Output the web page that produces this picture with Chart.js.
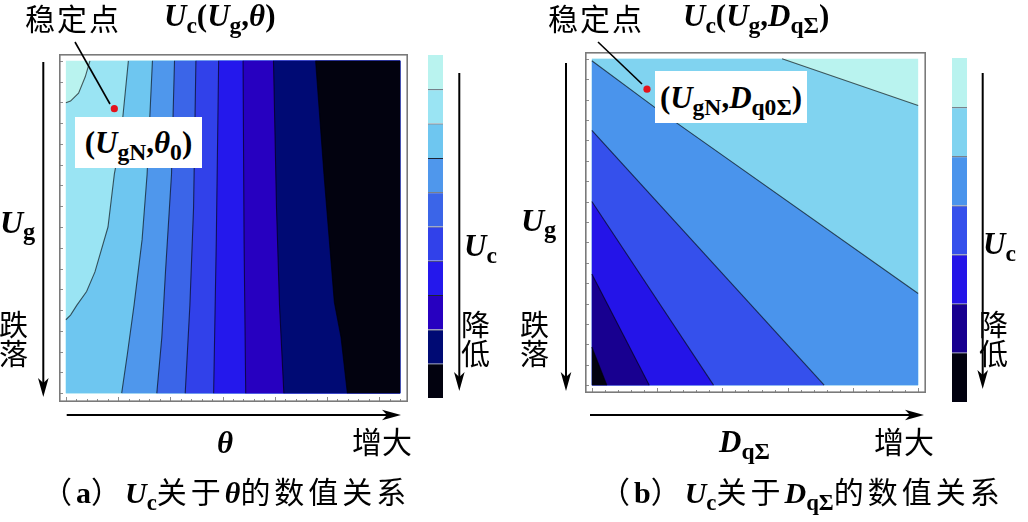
<!DOCTYPE html>
<html>
<head>
<meta charset="utf-8">
<script src="https://cdn.jsdelivr.net/npm/chart.js@4.4.1/dist/chart.umd.min.js"></script>
<style>
  html, body { margin: 0; padding: 0; background: #fff; }
  #fig { position: relative; width: 1028px; height: 522px; overflow: hidden; }
  canvas, svg { position: absolute; }
  .t { position: absolute; white-space: nowrap; line-height: 1; color: #000; }
  .zh { font-family: "Noto Sans CJK SC", sans-serif; font-weight: normal; }
  .tm { font-family: "Liberation Serif", "Noto Sans CJK SC", serif; }
  .tm i, .tm sub, .tm .l { font-weight: bold; }
  .tm .zh { font-family: "Noto Sans CJK SC", sans-serif; font-weight: normal; }
  .cap .zh { letter-spacing: 4px; }
  .t i { font-style: italic; }
  .t sub { font-size: 0.76em; position: relative; top: 0.3em; vertical-align: baseline; line-height: 0; font-style: normal; }
  .box { position: absolute; background: #fff; display: flex; align-items: center; justify-content: center; }
  .stack { line-height: 29px; }
</style>
</head>
<body>
<div id="fig">
  <canvas id="plot-theta" width="357" height="356" style="left:55px;top:50px"></canvas>
  <canvas id="bar-theta" width="15" height="343" style="left:428px;top:55px"></canvas>
  <canvas id="plot-dq" width="349" height="349" style="left:581px;top:48px"></canvas>
  <canvas id="bar-dq" width="15" height="344" style="left:952px;top:58px"></canvas>

  <svg width="1028" height="522" style="left:0;top:0">
    <g stroke="#000" stroke-width="2" fill="none">
      <line x1="43.3" y1="62" x2="43.3" y2="384"/>
      <line x1="459.3" y1="73" x2="459.3" y2="378"/>
      <line x1="66.7" y1="415" x2="388" y2="415"/>
      <line x1="566" y1="63" x2="566" y2="378"/>
      <line x1="982.7" y1="73" x2="982.7" y2="376"/>
      <line x1="590" y1="415" x2="911" y2="415"/>
    </g>
    <g fill="#000">
      <polygon points="43.3,397 38,378 43.3,383 48.6,378"/>
      <polygon points="459.3,391 454,372 459.3,377 464.6,372"/>
      <polygon points="401,415 382,409.7 387,415 382,420.3"/>
      <polygon points="566,391 560.7,372 566,377 571.3,372"/>
      <polygon points="982.7,389 977.4,370 982.7,375 988,370"/>
      <polygon points="924,415 905,409.7 910,415 905,420.3"/>
    </g>
    <g stroke="#000" stroke-width="1.6">
      <line x1="75" y1="42" x2="110" y2="104"/>
      <line x1="598" y1="42" x2="642" y2="84"/>
    </g>
  </svg>

  <div class="box" style="left:75px;top:117px;width:127px;height:51px">
    <span class="t tm" style="position:static;font-size:31px"><span class="l">(</span><i>U</i><sub>gN</sub><span class="l">,</span><i>θ</i><sub>0</sub><span class="l">)</span></span>
  </div>
  <div class="box" style="left:655px;top:71px;width:152px;height:52px">
    <span class="t tm" style="position:static;font-size:31px"><span class="l">(</span><i>U</i><sub>gN</sub><span class="l">,</span><i>D</i><sub>q0Σ</sub><span class="l">)</span></span>
  </div>

  <span class="t zh" style="left:25px;top:2px;font-size:30px;letter-spacing:2px">稳定点</span>
  <span class="t tm" style="left:164px;top:0px;font-size:31px"><i>U</i><sub>c</sub><span class="l">(</span><i>U</i><sub>g</sub><span class="l">,</span><i>θ</i><span class="l">)</span></span>
  <span class="t zh" style="left:548px;top:2px;font-size:30px;letter-spacing:2px">稳定点</span>
  <span class="t tm" style="left:683px;top:0px;font-size:31px"><i>U</i><sub>c</sub><span class="l">(</span><i>U</i><sub>g</sub><span class="l">,</span><i>D</i><sub>qΣ</sub><span class="l">)</span></span>

  <span class="t tm" style="left:0px;top:206px;font-size:32px"><i>U</i><sub>g</sub></span>
  <span class="t zh stack" style="left:-1px;top:309px;font-size:29px">跌<br>落</span>
  <span class="t tm" style="left:521px;top:204px;font-size:32px"><i>U</i><sub>g</sub></span>
  <span class="t zh stack" style="left:520px;top:309px;font-size:29px">跌<br>落</span>

  <span class="t tm" style="left:464px;top:230px;font-size:31px"><i>U</i><sub>c</sub></span>
  <span class="t zh stack" style="left:461px;top:309px;font-size:29px">降<br>低</span>
  <span class="t tm" style="left:983px;top:228px;font-size:31px"><i>U</i><sub>c</sub></span>
  <span class="t zh stack" style="left:979px;top:309px;font-size:29px">降<br>低</span>

  <span class="t tm" style="left:217px;top:427px;font-size:31px"><i>θ</i></span>
  <span class="t zh" style="left:352px;top:425px;font-size:30px">增大</span>
  <span class="t tm" style="left:719px;top:426px;font-size:31px"><i>D</i><sub>qΣ</sub></span>
  <span class="t zh" style="left:874px;top:425px;font-size:30px">增大</span>

  <span class="t tm cap" style="left:42px;top:475px;font-size:30px"><span class="zh">（</span><span class="l">a</span><span class="zh">）</span><i>U</i><sub>c</sub><span class="zh">关于</span><i>θ</i><span class="zh">的数值关系</span></span>
  <span class="t tm cap" style="left:600px;top:475px;font-size:30px"><span class="zh">（</span><span class="l">b</span><span class="zh">）</span><i>U</i><sub>c</sub><span class="zh">关于</span><i>D</i><sub>qΣ</sub><span class="zh">的数值关系</span></span>
</div>

<script>
// ---- (a) Uc over (theta, Ug): both axes normalised to 0..1, Ug = 1 at the top ----
const thetaColors = ['#b9f3ef', '#9ae4f3', '#6ec6f0', '#4f97ec', '#3b65e8', '#3141ea', '#2418ec', '#2700c0', '#000a74', '#02020f'];
// each contour is a list of [theta, Ug], from the top edge downwards
const thetaContour1 = [[0.072, 1.0], [0.058, 0.952], [0.038, 0.903], [0.014, 0.879], [0.0, 0.874]];
const thetaContour2 = [[0.187, 1.0], [0.163, 0.756], [0.145, 0.659], [0.126, 0.5], [0.087, 0.365], [0.062, 0.306], [0.033, 0.265], [0.014, 0.235], [0.0, 0.221]];
const thetaContour3 = [[0.259, 1.0], [0.243, 0.659], [0.228, 0.462], [0.204, 0.265], [0.184, 0.118], [0.167, 0.0]];
const thetaContour4 = [[0.325, 1.0], [0.316, 0.659], [0.298, 0.365], [0.287, 0.168], [0.272, 0.0]];
const thetaContour5 = [[0.389, 1.0], [0.382, 0.559], [0.371, 0.265], [0.357, 0.0]];
const thetaContour6 = [[0.457, 1.0], [0.450, 0.462], [0.442, 0.0]];
const thetaContour7 = [[0.530, 1.0], [0.533, 0.462], [0.538, 0.0]];
const thetaContour8 = [[0.621, 1.0], [0.630, 0.559], [0.639, 0.265], [0.652, 0.0]];
const thetaContour9 = [[0.747, 1.0], [0.772, 0.659], [0.803, 0.274], [0.823, 0.168], [0.842, 0.0]];
const thetaStable = [0.145, 0.856];

// ---- (b) Uc over (DqSigma, Ug) ----
const dqColors = ['#b9f3ef', '#80d3f0', '#4a94ec', '#3550ec', '#2414e8', '#180090', '#020210'];
const dqContour1 = [[0.583, 1.0], [1.0, 0.857]];
const dqContour2 = [[0.0, 0.994], [0.2, 0.846], [1.0, 0.281]];
const dqContour3 = [[0.0, 0.781], [0.712, 0.0]];
const dqContour4 = [[0.0, 0.563], [0.373, 0.0]];
const dqContour5 = [[0.0, 0.341], [0.176, 0.0]];
const dqContour6 = [[0.0, 0.117], [0.046, 0.0]];
const dqStable = [0.169, 0.907];

// frame tick marks (left and bottom only)
const ugTicks = Array.from({length: 17}, (_, i) => i / 16);
const thetaTicks = Array.from({length: 33}, (_, i) => i / 32);
const dqTicks = Array.from({length: 26}, (_, i) => i / 25);

(function() {
  const lineColor = 'rgba(0,0,0,0.62)';
  const full = [{x: 0, y: 0}, {x: 1, y: 0}, {x: 1, y: 1}, {x: 0, y: 1}];

  // area right of a theta contour
  function regionTheta(line) {
    const pts = line.map(([x, y]) => ({x, y}));
    if (line[line.length - 1][1] > 0) pts.push({x: 0, y: 0});
    pts.push({x: 1, y: 0}, {x: 1, y: 1});
    return pts;
  }

  // area below-left of a DqSigma contour
  function regionDq(line) {
    const pts = line.map(([x, y]) => ({x, y}));
    if (line[line.length - 1][0] === 1) pts.push({x: 1, y: 0});
    pts.push({x: 0, y: 0});
    if (line[0][1] === 1) pts.push({x: 0, y: 1});
    return pts;
  }

  function buildDatasets(contours, colors, stable, regionFn) {
    const n = contours.length;
    const sets = [{
      data: full, fill: 'shape', backgroundColor: colors[0], borderWidth: 0, pointRadius: 0, order: n + 1
    }];
    contours.forEach((c, i) => {
      sets.push({
        data: regionFn(c), fill: 'shape', backgroundColor: colors[i + 1],
        borderWidth: 0, pointRadius: 0, order: n - i
      });
    });
    contours.forEach(c => {
      sets.push({
        data: c.map(([x, y]) => ({x, y})), fill: false, borderColor: lineColor,
        borderWidth: 1.1, pointRadius: 0, order: -1
      });
    });
    sets.push({
      data: [{x: stable[0], y: stable[1]}], showLine: false, pointRadius: 3.6,
      pointBackgroundColor: '#e3121b', pointBorderWidth: 0, order: -2
    });
    return sets;
  }

  function framePlugin(yTicks, xTicks, majorEvery) {
    return {
      id: 'frame',
      afterDatasetsDraw(chart) {
        const {ctx, chartArea: a, scales} = chart;
        ctx.save();
        ctx.strokeStyle = '#8c8c8c';
        ctx.lineWidth = 1;
        yTicks.forEach(v => {
          const y = Math.round(scales.y.getPixelForValue(v)) + 0.5;
          ctx.beginPath();
          ctx.moveTo(a.left, y);
          ctx.lineTo(a.left + 4, y);
          ctx.stroke();
        });
        xTicks.forEach((v, i) => {
          const x = Math.round(scales.x.getPixelForValue(v)) + 0.5;
          ctx.beginPath();
          ctx.moveTo(x, a.bottom);
          ctx.lineTo(x, a.bottom - (i % majorEvery === 0 ? 5 : 3));
          ctx.stroke();
        });
        ctx.strokeStyle = '#7a7a7a';
        ctx.lineWidth = 1.6;
        ctx.strokeRect(a.left + 0.8, a.top + 0.8, a.width - 1.6, a.height - 1.6);
        ctx.restore();
      }
    };
  }

  const baseOptions = {
    responsive: false,
    animation: false,
    events: [],
    layout: {padding: 0},
    elements: {line: {tension: 0}},
    plugins: {legend: {display: false}, tooltip: {enabled: false}}
  };

  new Chart(document.getElementById('plot-theta'), {
    type: 'line',
    data: {datasets: buildDatasets([thetaContour1, thetaContour2, thetaContour3, thetaContour4, thetaContour5,
      thetaContour6, thetaContour7, thetaContour8, thetaContour9], thetaColors, thetaStable, regionTheta)},
    options: {
      ...baseOptions,
      scales: {
        x: {type: 'linear', display: false, min: -0.0205, max: 1.0234},
        y: {type: 'linear', display: false, min: -0.0265, max: 1.0206}
      }
    },
    plugins: [framePlugin(ugTicks, thetaTicks, 5)]
  });

  new Chart(document.getElementById('plot-dq'), {
    type: 'line',
    data: {datasets: buildDatasets([dqContour1, dqContour2, dqContour3, dqContour4, dqContour5, dqContour6],
      dqColors, dqStable, regionDq)},
    options: {
      ...baseOptions,
      scales: {
        x: {type: 'linear', display: false, min: -0.021, max: 1.024},
        y: {type: 'linear', display: false, min: -0.024, max: 1.021}
      }
    },
    plugins: [framePlugin(ugTicks, dqTicks, 5)]
  });

  // colour bars: one stacked bar, darkest level at the bottom
  function colorBar(id, colors) {
    const n = colors.length;
    const datasets = colors.slice().reverse().map((c, i) => ({
      data: [1],
      backgroundColor: c,
      borderColor: '#1c2434',
      borderWidth: {top: i === n - 1 ? 0 : 1, bottom: 0, left: 0, right: 0},
      borderSkipped: false,
      inflateAmount: 0,
      barPercentage: 1,
      categoryPercentage: 1
    }));
    new Chart(document.getElementById(id), {
      type: 'bar',
      data: {labels: ['Uc'], datasets},
      options: {
        ...baseOptions,
        scales: {
          x: {display: false, stacked: true},
          y: {display: false, stacked: true, min: 0, max: n}
        }
      }
    });
  }

  colorBar('bar-theta', thetaColors);
  colorBar('bar-dq', dqColors);
})();
</script>
</body>
</html>
